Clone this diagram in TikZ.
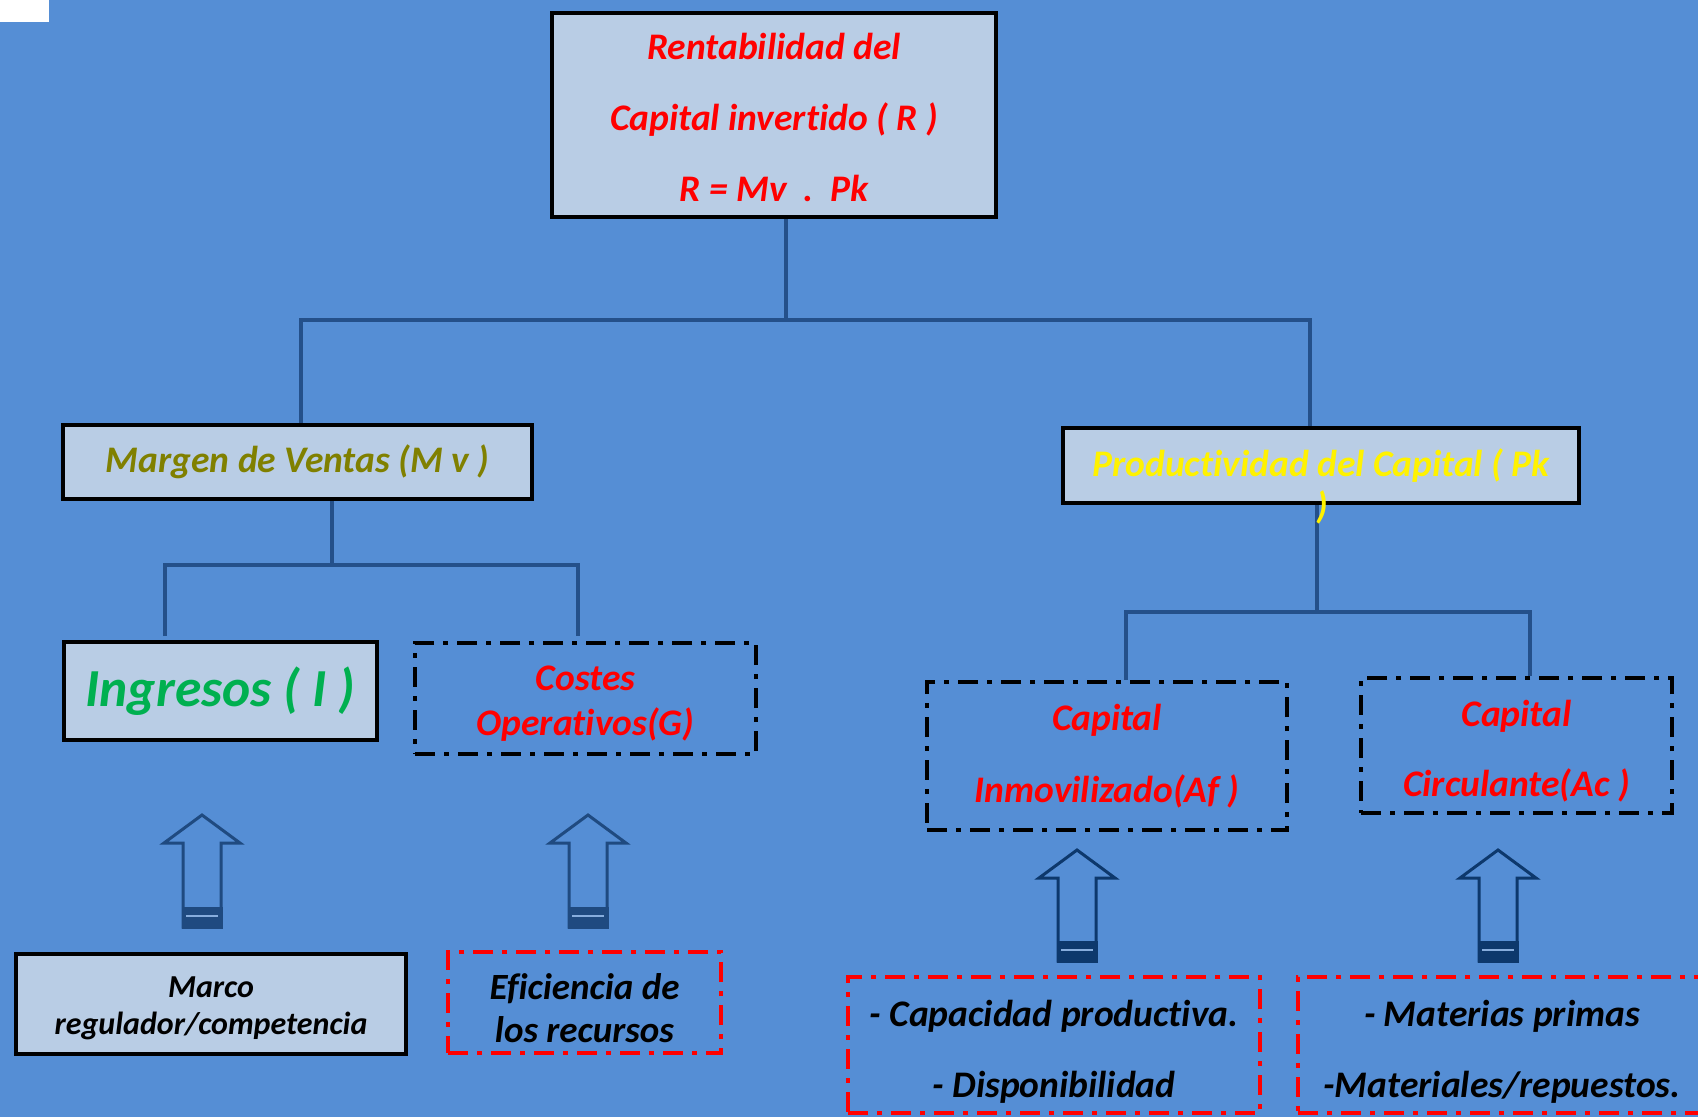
\documentclass[tikz,border=0pt]{standalone}
\usepackage{fontspec}
\setmainfont{Carlito}[Ligatures=NoCommon, Contextuals=NoAlternate]
\definecolor{bg}{HTML}{558ED5}
\definecolor{boxfill}{HTML}{B9CDE5}
\definecolor{conncol}{HTML}{24508A}
\definecolor{arrowA}{HTML}{1F4A80}
\definecolor{arrowB}{HTML}{0D386C}
\definecolor{olivetxt}{HTML}{808000}
\definecolor{greentxt}{HTML}{00B050}
\tikzset{
  fsz/.style 2 args={font=\bfseries\itshape\fontsize{#1}{#2}\selectfont},
  solidbox/.style={draw=black, line width=4pt, fill=boxfill, inner sep=0pt, align=center},
  dashbox/.style={draw=#1, line width=4pt, dash pattern=on 20pt off 9pt on 5pt off 9pt, inner sep=0pt, align=center},
  conn/.style={draw=conncol, line width=4pt},
}
\newcommand{\topstrut}[1]{\rule{0pt}{#1}}
\newcommand{\blockarrowat}[4]{%
  \draw[#4, line width=3pt, line join=miter] (#1,#2) -- (#1+38,#2+28) -- (#1+19,#2+28) -- (#1+19,#3) -- (#1-19,#3) -- (#1-19,#2+28) -- (#1-38,#2+28) -- cycle;
  \fill[#4] (#1-20.5,#3-20) rectangle (#1+20.5,#3+1.5);
  \draw[boxfill!50!bg, line width=1.5pt] (#1-16,#3-11) -- (#1+16,#3-11);
}
\begin{document}
\begin{tikzpicture}[x=1pt,y=-1pt]
\useasboundingbox (0,0) rectangle (1698,1117);
\fill[bg] (0,0) rectangle (1698,1117);
\fill[white] (0,0) rectangle (49,22);

% nodes
\node[solidbox, minimum width=444pt, minimum height=204pt, text=red, fsz={37.5}{71}] (top) at (774,115)
  {\topstrut{32pt}Rentabilidad del\\Capital invertido ( R )\\R = Mv\ \ .\ \ Pk};
\node[solidbox, minimum width=469pt, minimum height=74pt, text=olivetxt, fsz={37.5}{44}] (margen) at (297.5,462)
  {Margen de Ventas (M v )};
\node[solidbox, minimum width=516pt, minimum height=75pt, text=yellow, fsz={37.5}{44}] (prod) at (1321,465.5)
  {Productividad del Capital ( Pk};
\node[solidbox, minimum width=313pt, minimum height=98pt, text=greentxt, fsz={53.5}{60}] (ing) at (220.5,691)
  {Ingresos ( I )};
\node[dashbox=black, minimum width=341pt, minimum height=111pt, text=red, fsz={37.5}{45}] (costes) at (585.5,698.5)
  {\topstrut{35pt}Costes\\Operativos(G)};
\node[dashbox=black, minimum width=360pt, minimum height=148pt, text=red, fsz={37.5}{72}] (inmov) at (1107,756)
  {Capital\\Inmovilizado(Af )};
\node[dashbox=black, minimum width=311pt, minimum height=135pt, text=red, fsz={37.5}{70}] (circ) at (1516.5,745.5)
  {\topstrut{37pt}Capital\\Circulante(Ac )};
\node[solidbox, minimum width=390pt, minimum height=100pt, text=black, fsz={32}{37}] (marco) at (211,1004)
  {\topstrut{29pt}Marco\\regulador/competencia};
\node[dashbox=red, minimum width=273pt, minimum height=101pt, text=black, fsz={37}{43}] (efic) at (584.5,1002.5)
  {\topstrut{38pt}Eficiencia de\\los recursos};
\node[dashbox=red, minimum width=412pt, minimum height=136pt, text=black, fsz={37.5}{71}] (capac) at (1054,1045)
  {\topstrut{39pt}- Capacidad productiva.\\- Disponibilidad};
\node[dashbox=red, minimum width=484pt, minimum height=136pt, text=black, fsz={37.5}{71}] (mater) at (1540,1045)
  {\topstrut{39pt}- Materias primas\hspace*{76pt}\\-Materiales/repuestos.\hspace*{76pt}};

% connectors
\coordinate (j1) at (786,320);
\coordinate (jl) at (301,320);
\coordinate (jr) at (1310,320);
\draw[conn] (top.south -| j1) -- (j1);
\draw[conn] (margen.north -| jl) -- (jl) -- (jr) -- (prod.north -| jr);

\coordinate (m1) at (332,565);
\coordinate (ml) at (165,565);
\coordinate (mr) at (578,565);
\draw[conn] (margen.south -| m1) -- (m1);
\draw[conn] (ing.north -| ml) ++(0,-4) -- (ml) -- (mr) -- ([yshift=5pt]costes.north -| mr);

\coordinate (p1) at (1317,612);
\coordinate (pl) at (1126,612);
\coordinate (pr) at (1530,612);
\draw[conn] (prod.south -| p1) -- (p1);
\draw[conn] (inmov.north -| pl) -- (pl) -- (pr) -- (circ.north -| pr);

% closing parenthesis of the Pk label, wrapped below
\node[text=yellow, fsz={37.5}{44}, inner sep=0pt] (prodparen) at (1322,507) {)};

% block arrows
\blockarrowat{202}{815}{927}{arrowA}
\blockarrowat{588}{815}{927}{arrowA}
\blockarrowat{1077}{850}{961}{arrowB}
\blockarrowat{1498}{850}{961}{arrowB}
\end{tikzpicture}
\end{document}
